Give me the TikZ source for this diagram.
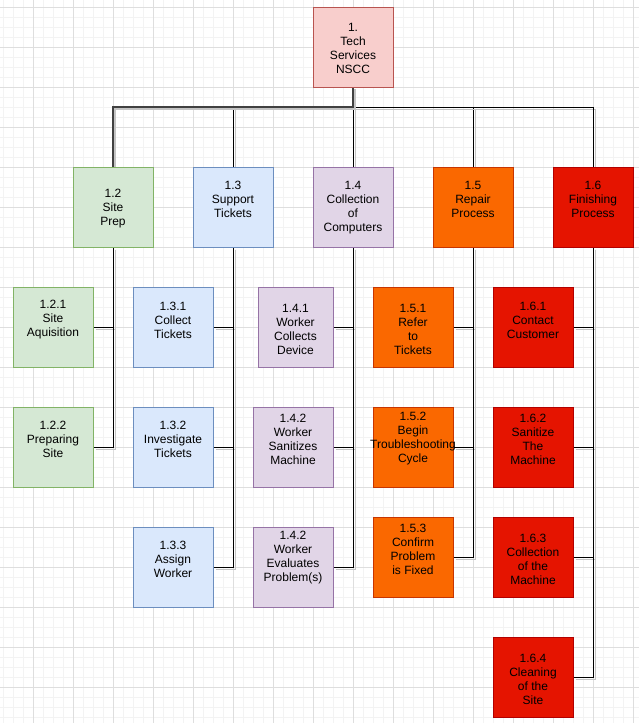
\documentclass[tikz,border=0pt]{standalone}
\usepackage{fontspec}
\setmainfont{Liberation Sans}
\definecolor{rootF}{HTML}{F8CECC}\definecolor{rootD}{HTML}{B85450}
\definecolor{grnF}{HTML}{D5E8D4}\definecolor{grnD}{HTML}{82B366}
\definecolor{bluF}{HTML}{DAE8FC}\definecolor{bluD}{HTML}{6C8EBF}
\definecolor{purF}{HTML}{E1D5E7}\definecolor{purD}{HTML}{9673A6}
\definecolor{orgF}{HTML}{FA6800}\definecolor{orgD}{HTML}{C73500}
\definecolor{redF}{HTML}{E51400}\definecolor{redD}{HTML}{B20000}
\definecolor{gridMinor}{HTML}{F3F3F3}\definecolor{gridMajor}{HTML}{DEDEDE}
\definecolor{edgeShadow}{HTML}{C4C4C4}
\pgfdeclarelayer{gridlayer}
\pgfdeclarelayer{edgelayer}
\pgfsetlayers{gridlayer,edgelayer,main}
\tikzset{
  box/.style={draw, minimum width=80pt, minimum height=80pt, inner sep=0pt, outer sep=0pt, line width=1pt},
  lbl/.style={align=center, font=\fontsize{12}{14}\selectfont, text=black, inner sep=0pt},
  rootbox/.style={box, fill=rootF, draw=rootD},
  grnbox/.style={box, fill=grnF, draw=grnD},
  blubox/.style={box, fill=bluF, draw=bluD},
  purbox/.style={box, fill=purF, draw=purD},
  orgbox/.style={box, fill=orgF, draw=orgD},
  redbox/.style={box, fill=redF, draw=redD},
  edge/.style={draw=black, line width=1pt,
    preaction={draw=edgeShadow, line width=1pt, transform canvas={shift={(2.5,2.5)}}}},
  thickedge/.style={draw=black!75, line width=2.4pt,
    preaction={draw=edgeShadow, line width=2.4pt, transform canvas={shift={(2,2)}}}},
  minorline/.style={draw=gridMinor, line width=1pt},
  majorline/.style={draw=gridMajor, line width=1pt},
}
\newcommand\wbs[5]{\node[#2, label={[lbl,yshift=#4pt]center:{#5}}] (#1) at (#3) {};}
\begin{document}
\begin{tikzpicture}[x=1pt,y=-1pt]
\useasboundingbox (0,0) rectangle (639,723);
\begin{pgfonlayer}{gridlayer}
  \fill[white] (0,0) rectangle (639,723);
  \foreach \x in {3.3,13.3,...,633.4} \draw[minorline] (\x,0) -- (\x,723);
  \foreach \y in {7.3,17.3,...,717.4} \draw[minorline] (0,\y) -- (639,\y);
  \foreach \x in {33.3,73.3,...,633.4} \draw[majorline] (\x,0) -- (\x,723);
  \foreach \y in {7.3,47.3,...,687.4} \draw[majorline] (0,\y) -- (639,\y);
\end{pgfonlayer}

% level 1
\wbs{n1}{rootbox}{353,47}{-1}{1.\\Tech\\Services\\NSCC}
% level 2
\wbs{n12}{grnbox}{113,207}{-2}{1.2\\Site\\Prep}
\wbs{n13}{blubox}{233,207}{8}{1.3\\Support\\Tickets}
\wbs{n14}{purbox}{353,207}{-1}{1.4\\Collection\\of\\Computers}
\wbs{n15}{orgbox}{473,207}{8}{1.5\\Repair\\Process}
\wbs{n16}{redbox}{593,207}{8}{1.6\\Finishing\\Process}
% level 3
\wbs{n121}{grnbox}{53,327}{7}{1.2.1\\Site\\Aquisition}
\wbs{n122}{grnbox}{53,447}{8}{1.2.2\\Preparing\\Site}
\wbs{n131}{blubox}{173,327}{7}{1.3.1\\Collect\\Tickets}
\wbs{n132}{blubox}{173,447}{8}{1.3.2\\Investigate\\Tickets}
\wbs{n133}{blubox}{173,567}{8}{1.3.3\\Assign\\Worker}
\wbs{n141}{purbox,minimum width=75pt}{295.5,327}{-2}{1.4.1\\Worker\\Collects\\Device}
\wbs{n142}{purbox}{293,447}{8}{1.4.2\\Worker\\Sanitizes\\Machine}
\wbs{n143}{purbox}{293,567}{9}{1.4.2\\Worker\\Evaluates\\Problem(s)}
\wbs{n151}{orgbox}{413,327}{-2}{1.5.1\\Refer\\to\\Tickets}
\wbs{n152}{orgbox}{413,447}{8}{1.5.2\\Begin\\Troubleshooting\\Cycle}
\wbs{n153}{orgbox}{413,557}{8}{1.5.3\\Confirm\\Problem\\is Fixed}
\wbs{n161}{redbox}{533,327}{7}{1.6.1\\Contact\\Customer}
\wbs{n162}{redbox}{533,447}{8}{1.6.2\\Sanitize\\The\\Machine}
\wbs{n163}{redbox}{533,557}{-2}{1.6.3\\Collection\\of the\\Machine}
\wbs{n164}{redbox}{533,677}{-2}{1.6.4\\Cleaning\\of the\\Site}

\begin{pgfonlayer}{edgelayer}
  \draw[edge] (n1.south) -- ++(0,20) -| (n13.north);
  \draw[edge] (n1.south) -- (n14.north);
  \draw[edge] (n1.south) -- ++(0,20) -| (n15.north);
  \draw[edge] (n1.south) -- ++(0,20) -| (n16.north);
  \draw[thickedge] (n1.south) -- ++(0,20) -| (n12.north);
  \draw[edge] (n12.south) |- (n121.east);
  \draw[edge] (n12.south) |- (n122.east);
  \draw[edge] (n13.south) |- (n131.east);
  \draw[edge] (n13.south) |- (n132.east);
  \draw[edge] (n13.south) |- (n133.east);
  \draw[edge] (n14.south) |- (n141.east);
  \draw[edge] (n14.south) |- (n142.east);
  \draw[edge] (n14.south) |- (n143.east);
  \draw[edge] (n15.south) |- (n151.east);
  \draw[edge] (n15.south) |- (n152.east);
  \draw[edge] (n15.south) |- (n153.east);
  \draw[edge] (n16.south) |- (n161.east);
  \draw[edge] (n16.south) |- (n162.east);
  \draw[edge] (n16.south) |- (n163.east);
  \draw[edge] (n16.south) |- (n164.east);
\end{pgfonlayer}
\end{tikzpicture}
\end{document}
